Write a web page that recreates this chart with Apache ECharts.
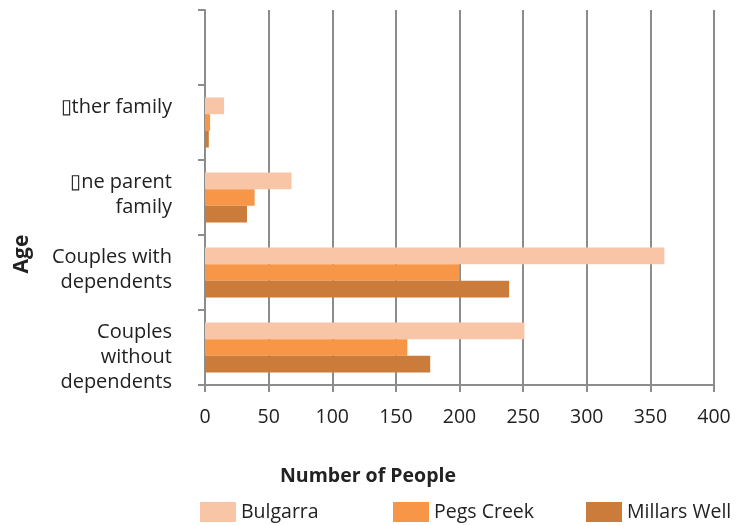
<!DOCTYPE html>
<html>
<head>
<meta charset="utf-8">
<script src="https://cdn.jsdelivr.net/npm/echarts@6/dist/echarts.min.js"></script>
<style>
  html, body { margin: 0; padding: 0; background: #fff; }
  #chart { width: 751px; height: 525px; }
</style>
</head>
<body>
<div id="chart"></div>
<script>
// Family types (bottom to top); the top band is left empty
const categories = ['Couples\nwithout\ndependents', 'Couples with\ndependents', '\u25AFne parent\nfamily', '\u25AFther family', ''];

// Number of people per family type
const bulgarra    = [251, 361, 68, 15, null];
const pegsCreek   = [159, 200, 39, 4, null];
const millarsWell = [177, 239, 33, 3, null];

const seriesNames = ['Bulgarra', 'Pegs Creek', 'Millars Well'];
const seriesColors = ['#F9C5A7', '#F79646', '#CC7C3A'];

const xTicks = { min: 0, max: 400, interval: 50 };

const FONT = '"Open Sans", "Noto Sans", sans-serif';
const GRID_COLOR = '#8c8c8c';

const chart = echarts.init(document.getElementById('chart'), null, { renderer: 'canvas' });

const dataSets = [bulgarra, pegsCreek, millarsWell];

chart.setOption({
  animation: false,
  backgroundColor: '#ffffff',
  textStyle: { fontFamily: FONT },
  grid: { left: 205, right: 37, top: 10, bottom: 140, containLabel: false },
  xAxis: {
    type: 'value',
    min: xTicks.min,
    max: xTicks.max,
    interval: xTicks.interval,
    axisLine: { show: true, lineStyle: { color: GRID_COLOR, width: 2 } },
    axisTick: { show: true, length: 7, lineStyle: { color: GRID_COLOR, width: 2 } },
    axisLabel: { color: '#222', fontSize: 19.5, fontFamily: FONT, margin: 20, lineHeight: 24 },
    splitLine: { show: true, lineStyle: { color: GRID_COLOR, width: 2 } }
  },
  yAxis: {
    type: 'category',
    data: categories,
    axisLine: { show: true, lineStyle: { color: GRID_COLOR, width: 2 } },
    axisTick: { show: true, length: 7, lineStyle: { color: GRID_COLOR, width: 2 } },
    axisLabel: {
      color: '#222',
      fontSize: 20,
      fontFamily: FONT,
      lineHeight: 25,
      align: 'right',
      verticalAlign: 'top',
      padding: [-28, 0, 0, 0],
      margin: 33
    },
    splitLine: { show: false }
  },
  legend: {
    left: 200,
    top: 502,
    padding: 0,
    itemWidth: 36,
    itemHeight: 20,
    itemGap: 44,
    icon: 'rect',
    data: seriesNames,
    textStyle: { color: '#222', fontSize: 19.5, fontFamily: FONT, width: 108, lineHeight: 20 }
  },
  graphic: [
    {
      type: 'text',
      left: 280,
      top: 466,
      style: { text: 'Number of People', font: 'bold 19.5px "Open Sans", sans-serif', fill: '#222' }
    },
    {
      type: 'text',
      x: 22,
      y: 254,
      rotation: Math.PI / 2,
      style: { text: 'Age', font: 'bold 21px "Open Sans", sans-serif', fill: '#222', align: 'center', verticalAlign: 'middle' }
    }
  ],
  series: seriesNames.map((name, i) => ({
    name,
    type: 'bar',
    data: dataSets[i],
    barGap: '0%',
    barCategoryGap: '33.3%',
    itemStyle: { color: seriesColors[i] }
  }))
});
</script>
</body>
</html>
